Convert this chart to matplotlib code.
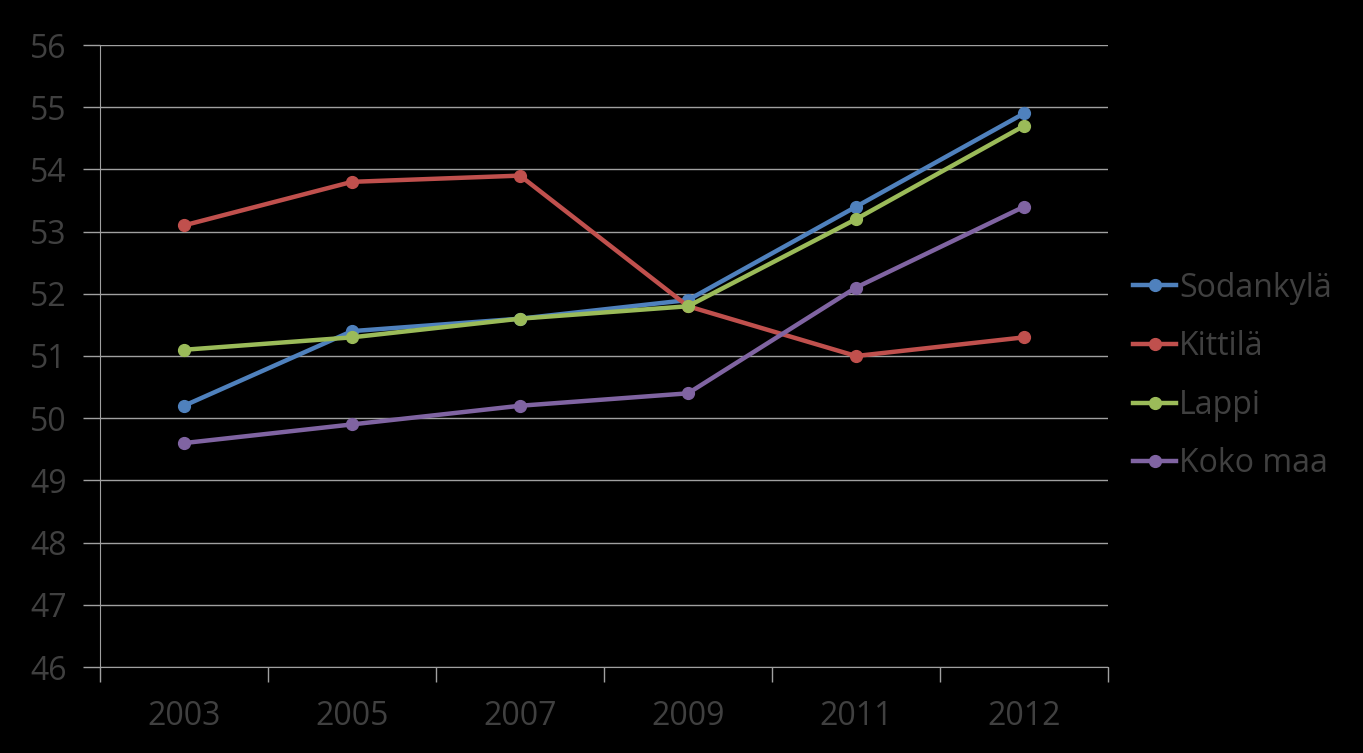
from matplotlib import pyplot as plt

# data
years = ['2003', '2005', '2007', '2009', '2011', '2012']
sodankyla = [50.2, 51.4, 51.6, 51.9, 53.4, 54.9]
kittila = [53.1, 53.8, 53.9, 51.8, 51.0, 51.3]
lappi = [51.1, 51.3, 51.6, 51.8, 53.2, 54.7]
koko_maa = [49.6, 49.9, 50.2, 50.4, 52.1, 53.4]

plt.rcParams['font.family'] = ['Open Sans', 'DejaVu Sans']
txt = '#404040'
grid = '#a0a0a0'

fig = plt.figure(figsize=(13.63, 7.53), dpi=100, facecolor='black')
ax = fig.add_axes([100 / 1363, 86 / 753, 1008 / 1363, 622 / 753])
ax.set_facecolor('black')

x = range(len(years))
ax.plot(x, sodankyla, color='#4f81bd', lw=3.2, marker='o', ms=8.5, label='Sodankylä')
ax.plot(x, kittila, color='#c0504d', lw=3.2, marker='o', ms=8.5, label='Kittilä')
ax.plot(x, lappi, color='#9bbb59', lw=3.2, marker='o', ms=8.5, label='Lappi')
ax.plot(x, koko_maa, color='#8064a2', lw=3.2, marker='o', ms=8.5, label='Koko maa')

ax.set_ylim(46, 56)
ax.set_yticks(range(46, 57))
ax.set_xlim(-0.5, len(years) - 0.5)
ax.set_xticks(list(x))
ax.set_xticklabels(years)
ax.set_xticks([i - 0.5 for i in range(len(years) + 1)], minor=True)

ax.yaxis.grid(True, color=grid, lw=1)
ax.set_axisbelow(True)
ax.tick_params(axis='y', colors=grid, labelcolor=txt, labelsize=23, length=12, width=1, pad=12)
ax.tick_params(axis='x', which='major', length=0, labelcolor=txt, labelsize=23, pad=24)
ax.tick_params(axis='x', which='minor', colors=grid, length=11, width=1)
for s in ['top', 'right']:
    ax.spines[s].set_visible(False)
ax.spines['left'].set_color(grid)
ax.spines['bottom'].set_color(grid)

leg = fig.legend(loc='center left', bbox_to_anchor=(1133 / 1363, 377 / 753),
                 bbox_transform=fig.transFigure, frameon=False,
                 fontsize=23, labelcolor=txt, handlelength=1.35, handletextpad=0.1,
                 labelspacing=0.8, borderpad=0, borderaxespad=0)

plt.savefig('out.png', facecolor='black')
